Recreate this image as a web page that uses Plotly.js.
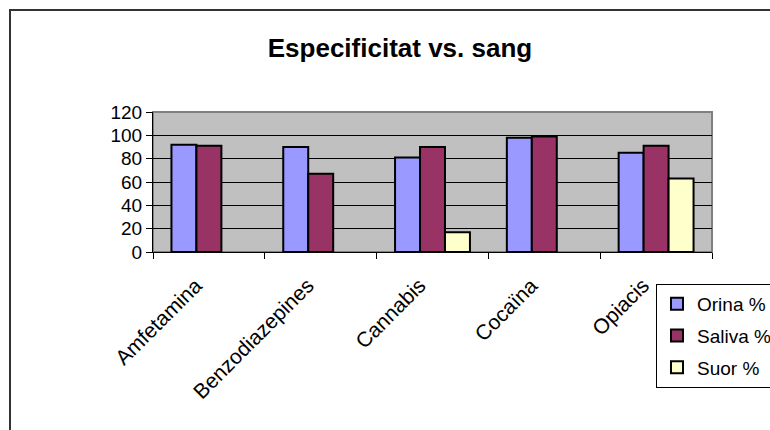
<!DOCTYPE html>
<html>
<head>
<meta charset="utf-8">
<script src="https://cdn.plot.ly/plotly-3.0.1.min.js"></script>
<style>
html, body { margin: 0; padding: 0; background: #ffffff; overflow: hidden; }
#chart { width: 770px; height: 430px; }
</style>
</head>
<body>
<div id="chart"></div>
<script>
const categories = ["Amfetamina", "Benzodiazepines", "Cannabis", "Cocaïna", "Opiacis"];
const orina = [92, 90, 81, 98, 85];
const saliva = [91, 67, 90, 99, 91];
const suor = [null, null, 17, null, 63];
const seriesNames = ["Orina %", "Saliva %", "Suor %"];
const yTicks = [0, 20, 40, 60, 80, 100, 120];

const W = 770, H = 430;
const L = 153, R = 712, T = 112, B = 252;
const pw = R - L, ph = B - T;
const px = v => (v - L) / pw;
const py = v => (B - v) / ph;

const colors = ["#9999ff", "#993366", "#ffffcc"];
const values = [orina, saliva, suor];

const traces = values.map((vals, i) => ({
  type: "bar",
  name: seriesNames[i],
  x: categories,
  y: vals,
  legendgroup: "g" + i,
  marker: { color: colors[i], line: { color: "#000000", width: 2 } },
  hoverinfo: "x+y+name"
}));

const font = "Liberation Sans, Arial, sans-serif";

const layout = {
  width: W, height: H,
  margin: { l: L, r: W - R, t: T, b: H - B, pad: 0, autoexpand: false },
  paper_bgcolor: "#ffffff",
  plot_bgcolor: "#c0c0c0",
  barmode: "group",
  bargap: 0.33,
  bargroupgap: 0,
  showlegend: true,
  font: { family: font, size: 20, color: "#000000" },
  title: {
    text: "<b>Especificitat vs. sang</b>",
    font: { family: font, size: 26, color: "#000000" },
    xref: "container", x: 400 / W, xanchor: "center",
    yref: "container", y: 1 - 48 / H, yanchor: "middle"
  },
  xaxis: {
    type: "category",
    tickangle: -45,
    tickson: "boundaries",
    ticks: "outside", ticklen: 6, tickcolor: "#000000", tickwidth: 1,
    ticklabelstandoff: 12,
    ticklabelshift: -13,
    showline: true, linecolor: "#000000", linewidth: 1,
    showgrid: false,
    tickfont: { family: font, size: 21, color: "#000000" },
    automargin: false
  },
  yaxis: {
    range: [0, 120],
    tickvals: yTicks,
    ticktext: yTicks.map(String),
    ticks: "outside", ticklen: 6, tickcolor: "#000000", tickwidth: 1,
    showline: true, linecolor: "#000000", linewidth: 1,
    showgrid: true, gridcolor: "#000000", gridwidth: 1,
    zeroline: false,
    tickfont: { family: font, size: 19, color: "#000000" },
    automargin: false
  },
  legend: {
    x: px(656), xanchor: "left",
    y: py(284), yanchor: "top",
    bgcolor: "#ffffff",
    bordercolor: "#000000", borderwidth: 1,
    font: { family: font, size: 19, color: "#000000" },
    tracegroupgap: 4,
    itemwidth: 30
  },
  shapes: [
    {
      type: "rect", xref: "paper", yref: "paper",
      x0: 0, x1: 1, y0: 0, y1: 1,
      line: { color: "#808080", width: 2 }, layer: "below"
    },
    {
      type: "line", xref: "paper", yref: "paper",
      x0: px(10), x1: px(10), y0: py(9.5), y1: py(440),
      line: { color: "#333333", width: 2 }
    },
    {
      type: "line", xref: "paper", yref: "paper",
      x0: px(9), x1: px(780), y0: py(10), y1: py(10),
      line: { color: "#333333", width: 2 }
    }
  ]
};

Plotly.newPlot("chart", traces, layout, { displayModeBar: false, staticPlot: true });
</script>
</body>
</html>
